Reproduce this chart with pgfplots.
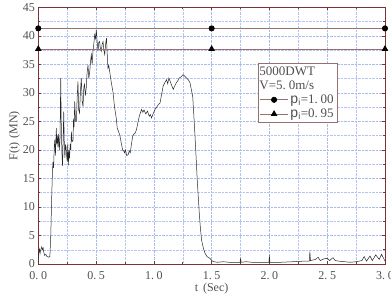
\documentclass[border=0pt]{standalone}
\usepackage{pgfplots}
\pgfplotsset{compat=1.18}
\usepackage{fontspec}
\setmainfont{Liberation Serif}
\setsansfont{Liberation Sans}
\definecolor{frame}{HTML}{7A3434}
\definecolor{hline}{HTML}{9A6E6E}
\definecolor{txt}{HTML}{505050}
\definecolor{gridc}{HTML}{A8BAEE}
\newcommand\dd{.\hspace{0.22em}}
\begin{document}
\begin{tikzpicture}
\begin{axis}[
  name=ax,
  scale only axis,
  width=346.7pt, height=256.7pt,
  xmin=0, xmax=3, ymin=0, ymax=45,
  xtick={0,0.5,1,1.5,2,2.5,3},
  xticklabels={0\dd0,0\dd5,1\dd0,1\dd5,2\dd0,2\dd5,3\dd0},
  ytick={0,5,...,45},
  minor x tick num=1, minor y tick num=1,
  grid=both,
  major grid style={densely dotted, gridc, line width=0.45pt},
  minor grid style={densely dotted, gridc!85, line width=0.45pt},
  axis line style={frame, line width=0.8pt},
  tick style={frame, line width=0.6pt},
  tick align=inside,
  major tick length=3pt, minor tick length=2pt,
  /pgf/number format/assume math mode=true,
  tick label style={font=\fontsize{12}{13}\selectfont, text=txt},
  xticklabel style={yshift=-4pt},
  xlabel={t\hspace{0.4em}(Sec)},
  ylabel={F(t)\hspace{0.3em}(MN)},
  label style={font=\fontsize{12}{13}\selectfont, text=txt},
  xlabel style={yshift=3pt},
  ylabel style={yshift=-4pt},
  legend cell align=left,
  legend style={at={(axis cs:1.9,35.3)}, anchor=north west, draw=hline!80!gray,
    line width=0.6pt, font=\fontsize{13}{15}\selectfont, text=txt,
    inner xsep=1.5pt, inner ysep=1.5pt, row sep=0pt, fill=white},
  legend image code/.code={\draw[mark repeat=2, mark phase=2] plot coordinates {(0pt,0pt) (14pt,0pt) (28pt,0pt)};},
]
\addplot[black!85, line width=0.5pt, forget plot] coordinates {
(0.000,0.3)(0.004,2.0)(0.010,2.6)(0.015,1.8)(0.020,2.4)(0.030,3.0)(0.036,2.5)(0.042,2.8)(0.048,2.0)
(0.055,1.5)(0.065,1.7)(0.075,1.3)(0.090,1.2)(0.100,1.3)(0.108,5.0)(0.115,11.0)(0.122,16.0)
(0.127,17.9)(0.132,16.8)(0.138,20.5)(0.143,21.8)(0.148,19.0)(0.156,23.8)(0.160,21.0)(0.165,22.5)
(0.170,20.5)(0.176,22.8)(0.182,20.0)(0.188,22.0)(0.194,32.6)(0.199,24.0)(0.205,19.2)(0.210,17.2)
(0.215,22.0)(0.220,26.7)(0.225,21.0)(0.230,18.6)(0.235,20.8)(0.240,20.5)(0.245,19.0)(0.250,18.0)
(0.255,21.0)(0.260,17.3)(0.265,19.9)(0.270,18.5)(0.276,21.0)(0.281,20.0)(0.286,23.2)(0.292,21.5)
(0.300,21.5)(0.305,25.5)(0.310,24.0)(0.315,28.5)(0.322,25.0)(0.330,25.0)(0.336,29.0)(0.343,32.0)
(0.350,27.0)(0.357,26.5)(0.364,30.0)(0.372,32.6)(0.380,28.5)(0.387,27.6)(0.394,31.0)(0.400,31.5)
(0.407,29.5)(0.415,30.9)(0.422,33.5)(0.430,34.9)(0.437,32.5)(0.445,33.7)(0.452,35.5)(0.459,36.7)
(0.466,35.0)(0.473,37.3)(0.480,38.5)(0.488,40.2)(0.495,39.5)(0.502,41.1)(0.509,39.0)(0.517,37.3)
(0.523,38.8)(0.530,39.0)(0.537,37.8)(0.545,37.3)(0.552,38.5)(0.560,39.0)(0.567,37.5)(0.575,36.7)
(0.582,38.5)(0.590,39.6)(0.596,37.0)(0.603,34.3)(0.610,34.8)(0.618,33.7)(0.630,32.0)(0.646,30.2)
(0.660,27.5)(0.675,25.5)(0.683,23.8)(0.695,23.2)(0.707,22.4)(0.718,21.2)(0.730,20.0)(0.740,19.8)
(0.746,19.5)(0.755,20.0)(0.765,19.0)(0.778,19.2)(0.787,19.8)(0.796,19.5)(0.806,21.0)(0.817,22.4)
(0.828,22.8)(0.840,23.0)(0.850,23.6)(0.862,24.8)(0.874,25.9)(0.884,26.5)(0.894,27.1)(0.905,26.6)
(0.915,27.0)(0.930,26.3)(0.945,26.8)(0.960,25.9)(0.970,26.2)(0.980,25.6)(0.995,26.4)(1.010,27.1)
(1.025,27.5)(1.040,28.0)(1.053,28.2)(1.065,29.5)(1.080,31.2)(1.095,31.8)(1.110,32.3)(1.120,31.6)
(1.130,32.6)(1.145,31.8)(1.160,31.0)(1.168,30.6)(1.180,31.2)(1.195,31.8)(1.210,32.2)(1.220,32.6)
(1.235,32.8)(1.254,33.2)(1.268,32.9)(1.283,32.6)(1.298,32.3)(1.312,31.8)(1.325,30.5)(1.336,29.4)
(1.346,26.0)(1.356,22.4)(1.366,18.5)(1.375,14.8)(1.385,11.5)(1.393,8.9)(1.403,6.2)(1.413,4.2)
(1.428,2.8)(1.442,1.9)(1.460,1.3)(1.485,1.0)(1.500,0.6)(1.520,0.4)(1.550,0.3)(1.600,0.4)
(1.650,0.3)(1.700,0.3)(1.745,0.3)(1.750,0.9)(1.755,0.3)(1.800,0.4)(1.850,0.3)(1.900,0.3)
(1.950,0.3)(1.995,0.3)(2.000,1.3)(2.005,0.3)(2.100,0.3)(2.200,0.4)(2.300,0.5)(2.345,0.5)
(2.350,2.2)(2.355,0.6)(2.400,0.8)(2.420,1.2)(2.440,0.6)(2.470,0.9)(2.500,1.0)(2.520,0.6)
(2.550,1.1)(2.570,0.6)(2.600,0.5)(2.650,0.4)(2.700,0.3)(2.750,0.4)(2.800,0.6)(2.820,1.3)
(2.840,0.5)(2.870,1.4)(2.890,0.6)(2.920,1.6)(2.950,0.8)(2.970,1.7)(3.000,0.5)
};
\addlegendimage{empty legend}
\addlegendentry{\hspace*{-31pt}5000DWT}
\addlegendimage{empty legend}
\addlegendentry{\hspace*{-31pt}V=5\dd0m/s}
\addplot[hline, line width=0.8pt, mark=*, mark size=2.6pt, mark options={black, fill=black}]
  coordinates {(0,41.3)(1.5,41.3)(3,41.3)};
\addlegendentry{{\sffamily\fontsize{14}{15}\selectfont p}\textsubscript{\sffamily i}=1\dd00}
\addplot[hline, line width=0.8pt, mark=triangle*, mark size=3pt, mark options={black, fill=black}]
  coordinates {(0,37.7)(1.5,37.7)(3,37.7)};
\addlegendentry{{\sffamily\fontsize{14}{15}\selectfont p}\textsubscript{\sffamily i}=0\dd95}
\end{axis}
\pgfresetboundingbox
\useasboundingbox ([xshift=-38.3pt,yshift=-32pt]ax.south west) rectangle ([xshift=6pt,yshift=7.3pt]ax.north east);
\end{tikzpicture}
\end{document}
